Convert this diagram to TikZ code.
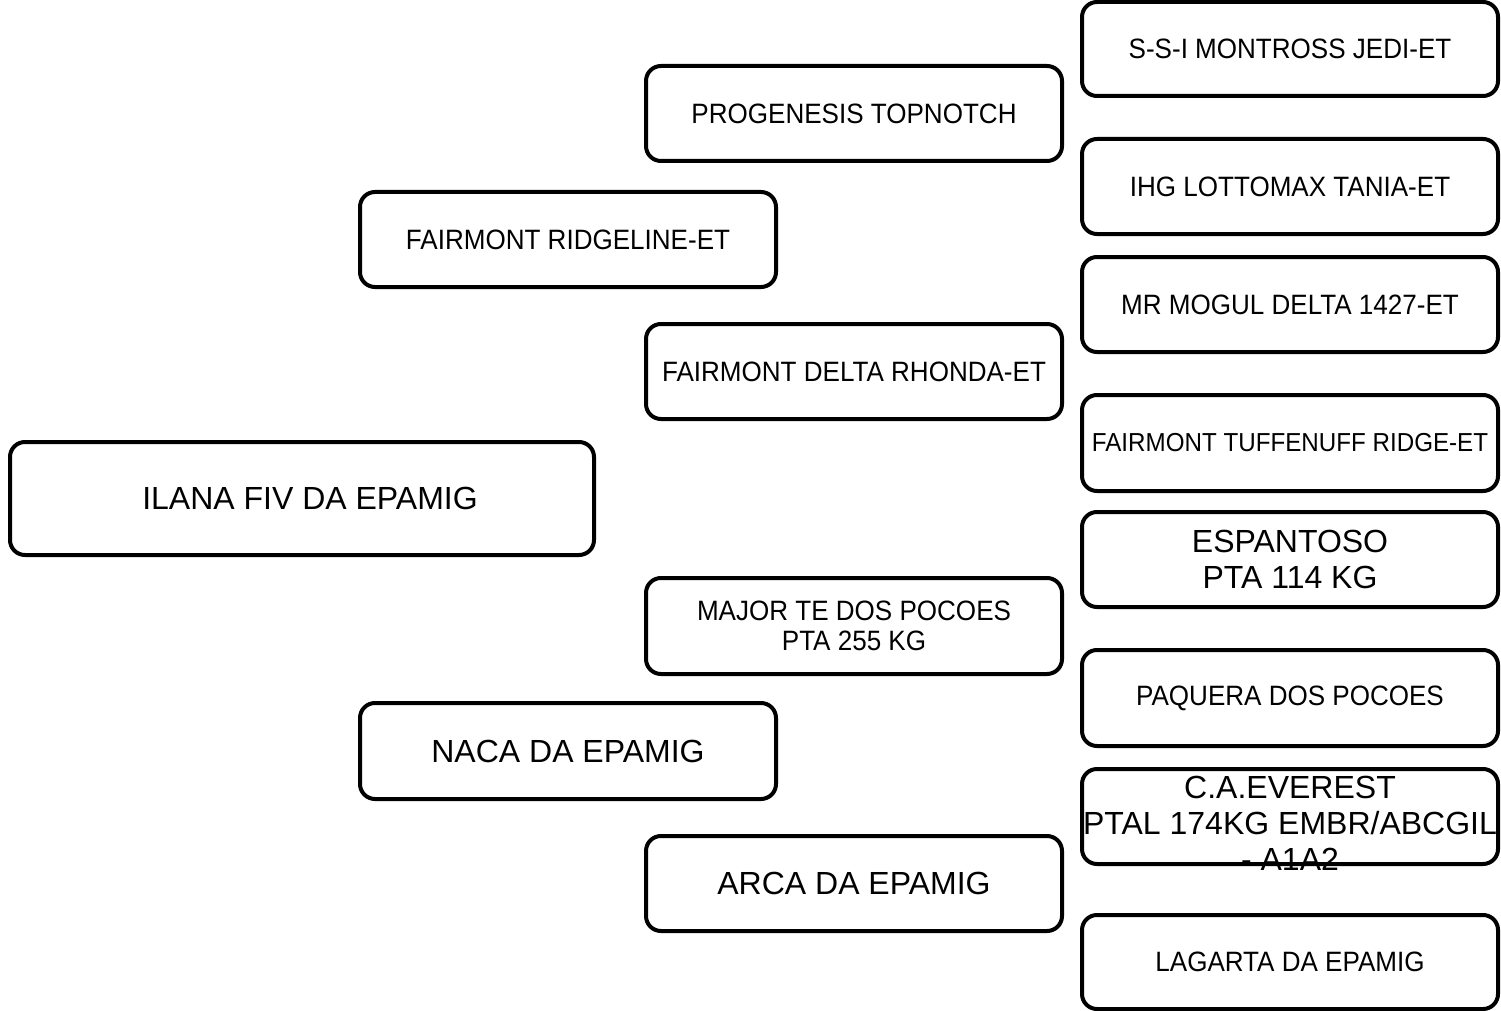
\documentclass[tikz,border=0pt]{standalone}
\usepackage{fontspec}
\setmainfont{Liberation Sans}
\newfontfamily\condfont[FakeStretch=0.93]{Liberation Sans}
\begin{document}
\begin{tikzpicture}[x=1pt,y=-1pt,
  box/.style={draw=black, line width=4pt, rounded corners=15pt, fill=white,
    inner sep=0pt, align=center, minimum width=416pt, minimum height=95pt},
  big/.style={font=\fontsize{32}{36}\selectfont},
  med/.style={font=\condfont\fontsize{28}{30}\selectfont},
  sml/.style={font=\condfont\fontsize{26}{28}\selectfont}]
\useasboundingbox (0,0) rectangle (1501,1011);
% generation 1
\node[box, big, minimum width=584pt, minimum height=113pt] (ilana) at (302,498.5) {\hspace*{16pt}ILANA FIV DA EPAMIG};
% generation 2
\node[box, med] (ridgeline) at (568,239.5) {FAIRMONT RIDGELINE-ET};
\node[box, big, minimum height=96pt] (naca) at (568,751) {NACA DA EPAMIG};
% generation 3
\node[box, med] (progenesis) at (854,113.5) {PROGENESIS TOPNOTCH};
\node[box, med] (rhonda) at (854,371.5) {FAIRMONT DELTA RHONDA-ET};
\node[box, med, minimum height=96pt] (major) at (854,626) {MAJOR TE DOS POCOES\\PTA 255 KG};
\node[box, big] (arca) at (854,883.5) {ARCA DA EPAMIG};
% generation 4
\node[box, med, minimum height=94pt] (jedi) at (1290,49) {S-S-I MONTROSS JEDI-ET};
\node[box, med] (tania) at (1290,186.5) {IHG LOTTOMAX TANIA-ET};
\node[box, med] (mogul) at (1290,304.5) {MR MOGUL DELTA 1427-ET};
\node[box, sml, minimum height=96pt] (tuffenuff) at (1290,443) {FAIRMONT TUFFENUFF RIDGE-ET};
\node[box, big] (espantoso) at (1290,559.5) {ESPANTOSO\\PTA 114 KG};
\node[box, med, minimum height=96pt] (paquera) at (1290,698) {PAQUERA DOS POCOES};
\node[box] (everest) at (1290,816.5) {};
\node[big, align=center, inner sep=0pt] (everesttext) at (1290,823) {C.A.EVEREST\\PTAL 174KG EMBR/ABCGIL\\- A1A2};
\node[box, med, minimum height=94pt] (lagarta) at (1290,962) {LAGARTA DA EPAMIG};
\end{tikzpicture}
\end{document}
